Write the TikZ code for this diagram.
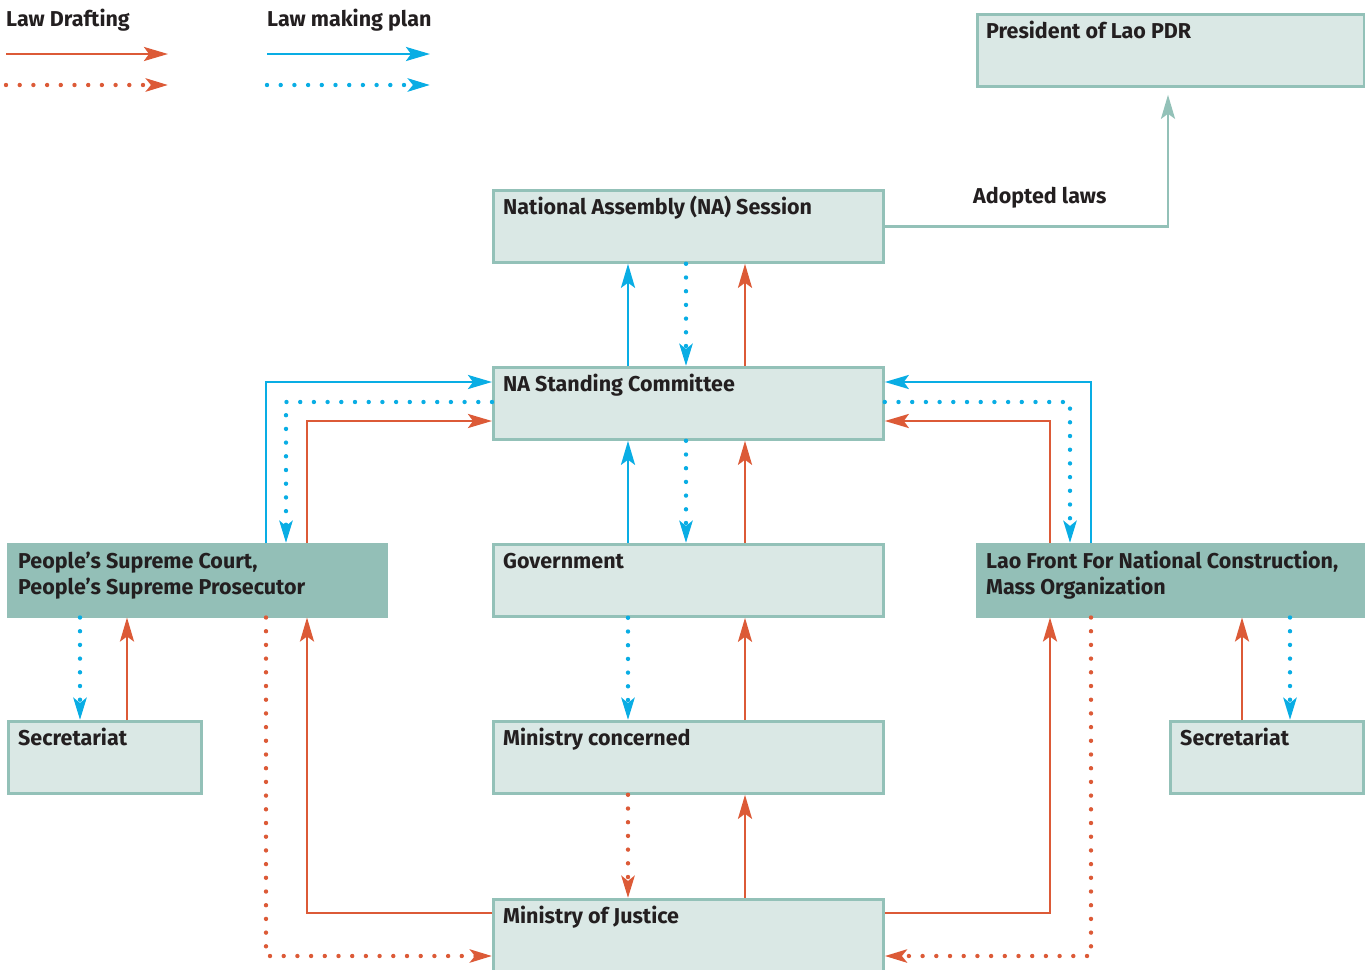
\documentclass[tikz,border=0pt]{standalone}
\usepackage{fontspec}
\setmainfont{Fira Sans}
\usetikzlibrary{arrows.meta,calc}
\definecolor{lred}{HTML}{DC5A37}
\definecolor{lblue}{HTML}{09ADE4}
\definecolor{boxline}{HTML}{93C1B8}
\definecolor{boxfill}{HTML}{DAE8E5}
\definecolor{boxdark}{HTML}{93BFB7}
\definecolor{txt}{HTML}{231F20}
\tikzset{
  box/.style={draw=boxline, fill=boxfill, line width=2.8pt, inner sep=0pt, anchor=north west},
  darkbox/.style={draw=boxdark, fill=boxdark, line width=2.5pt, inner sep=0pt, anchor=north west},
  lbl/.style={text=txt, font=\bfseries\fontsize{21.5}{26}\selectfont, anchor=base west, inner sep=0pt, align=left},
  solidarrow/.style={line width=2.6pt, arrows={-Stealth[length=24pt,width=14pt,inset=5pt]}},
  dotarrow/.style={line width=4.4pt, line cap=round, dash pattern=on 0pt off 13.7pt, arrows={-Stealth[length=22pt,width=13pt,inset=5pt]}},
  rs/.style={solidarrow, draw=lred},
  rd/.style={dotarrow, draw=lred},
  bs/.style={solidarrow, draw=lblue},
  bd/.style={dotarrow, draw=lblue},
  gs/.style={solidarrow, draw=boxline},
}
\begin{document}
\begin{tikzpicture}[x=1pt,y=-1pt]
\useasboundingbox (0,0) rectangle (1365,969);

% boxes
\node[box, minimum width=387pt, minimum height=72pt] (pres) at (976,13) {};
\node[box, minimum width=390pt, minimum height=72pt] (nas) at (492,189) {};
\node[box, minimum width=390pt, minimum height=72pt] (nsc) at (492,366) {};
\node[darkbox, minimum width=378pt, minimum height=72pt] (court) at (7,543) {};
\node[box, minimum width=390pt, minimum height=72pt] (gov) at (492,543) {};
\node[darkbox, minimum width=392pt, minimum height=72pt] (lao) at (976,543) {};
\node[box, minimum width=193pt, minimum height=72pt] (secl) at (7,720) {};
\node[box, minimum width=390pt, minimum height=72pt] (mc) at (492,720) {};
\node[box, minimum width=193pt, minimum height=72pt] (secr) at (1169,720) {};
\node[box, minimum width=390pt, minimum height=90pt] (moj) at (492,898) {};

% labels
\node[lbl] (tLD) at (6,27) {Law Drafting};
\node[lbl] (tLMP) at (267,27) {Law making plan};
\node[lbl] (tpres) at ([shift={(10,25)}]pres.north west) {President of Lao PDR};
\node[lbl] (tnas) at ([shift={(11,25)}]nas.north west) {National Assembly (NA) Session};
\node[lbl] (tnsc) at ([shift={(11,25)}]nsc.north west) {NA Standing Committee};
\node[lbl] (tcourt) at ([shift={(11,51)}]court.north west) {People’s Supreme Court,\\People’s Supreme Prosecutor};
\node[lbl] (tgov) at ([shift={(11,25)}]gov.north west) {Government};
\node[lbl] (tlao) at ([shift={(10,51)}]lao.north west) {Lao Front For National Construction,\\Mass Organization};
\node[lbl] (tsecl) at ([shift={(11,25)}]secl.north west) {Secretariat};
\node[lbl] (tmc) at ([shift={(11,25)}]mc.north west) {Ministry concerned};
\node[lbl] (tsecr) at ([shift={(11,25)}]secr.north west) {Secretariat};
\node[lbl] (tmoj) at ([shift={(11,25)}]moj.north west) {Ministry of Justice};
\node[lbl] (tadopt) at (973,203) {Adopted laws};

% legend
\coordinate (l1a) at (6,54);   \coordinate (l1b) at (168,54);
\coordinate (l2a) at (6,85);   \coordinate (l2b) at (168,85);
\coordinate (l3a) at (267,54); \coordinate (l3b) at (430,54);
\coordinate (l4a) at (267,85); \coordinate (l4b) at (430,85);
\draw[rs] (l1a) -- (l1b);
\draw[rd] (l2a) -- (l2b);
\draw[bs] (l3a) -- (l3b);
\draw[bd] (l4a) -- (l4b);

% helper coordinates
\coordinate (xa) at (628,0);
\coordinate (xb) at (686,0);
\coordinate (xc) at (745,0);
\coordinate (xl1) at (266,0);
\coordinate (xl2) at (286,0);
\coordinate (xl3) at (307,0);
\coordinate (xr1) at (1091,0);
\coordinate (xr2) at (1070,0);
\coordinate (xr3) at (1050,0);
\coordinate (xs1) at (80,0);
\coordinate (xs2) at (127,0);
\coordinate (xs3) at (1242,0);
\coordinate (xs4) at (1290,0);
\coordinate (xad) at (1168,0);
\coordinate (ya) at (0,382);
\coordinate (yb) at (0,402);
\coordinate (yc) at (0,421);
\coordinate (yd) at (0,913);
\coordinate (ye) at (0,956);

% adopted laws
\draw[gs, shorten >=7pt] (nas.east) -| (pres.south -| xad);

% NA session <-> standing committee
\draw[bs] (nsc.north -| xa) -- (nas.south -| xa);
\draw[bd] (nas.south -| xb) -- (nsc.north -| xb);
\draw[rs] (nsc.north -| xc) -- (nas.south -| xc);

% standing committee <-> government
\draw[bs] (gov.north -| xa) -- (nsc.south -| xa);
\draw[bd] (nsc.south -| xb) -- (gov.north -| xb);
\draw[rs] (gov.north -| xc) -- (nsc.south -| xc);

% government <-> ministry concerned
\draw[bd] (gov.south -| xa) -- (mc.north -| xa);
\draw[rs] (mc.north -| xc) -- (gov.south -| xc);

% ministry concerned <-> ministry of justice
\draw[rd] (mc.south -| xa) -- (moj.north -| xa);
\draw[rs] (moj.north -| xc) -- (mc.south -| xc);

% left side
\draw[bs] (court.north -| xl1) |- (nsc.west |- ya);
\draw[bd] (nsc.west |- yb) -| (court.north -| xl2);
\draw[rs] (court.north -| xl3) |- (nsc.west |- yc);
\draw[bd] (court.south -| xs1) -- (secl.north -| xs1);
\draw[rs] (secl.north -| xs2) -- (court.south -| xs2);
\draw[rs] (moj.west |- yd) -| (court.south -| xl3);
\draw[rd] (court.south -| xl1) |- (moj.west |- ye);

% right side
\draw[bs] (lao.north -| xr1) |- (nsc.east |- ya);
\draw[bd] (nsc.east |- yb) -| (lao.north -| xr2);
\draw[rs] (lao.north -| xr3) |- (nsc.east |- yc);
\draw[rs] (secr.north -| xs3) -- (lao.south -| xs3);
\draw[bd] (lao.south -| xs4) -- (secr.north -| xs4);
\draw[rs] (moj.east |- yd) -| (lao.south -| xr3);
\draw[rd] (lao.south -| xr1) |- (moj.east |- ye);
\end{tikzpicture}
\end{document}
